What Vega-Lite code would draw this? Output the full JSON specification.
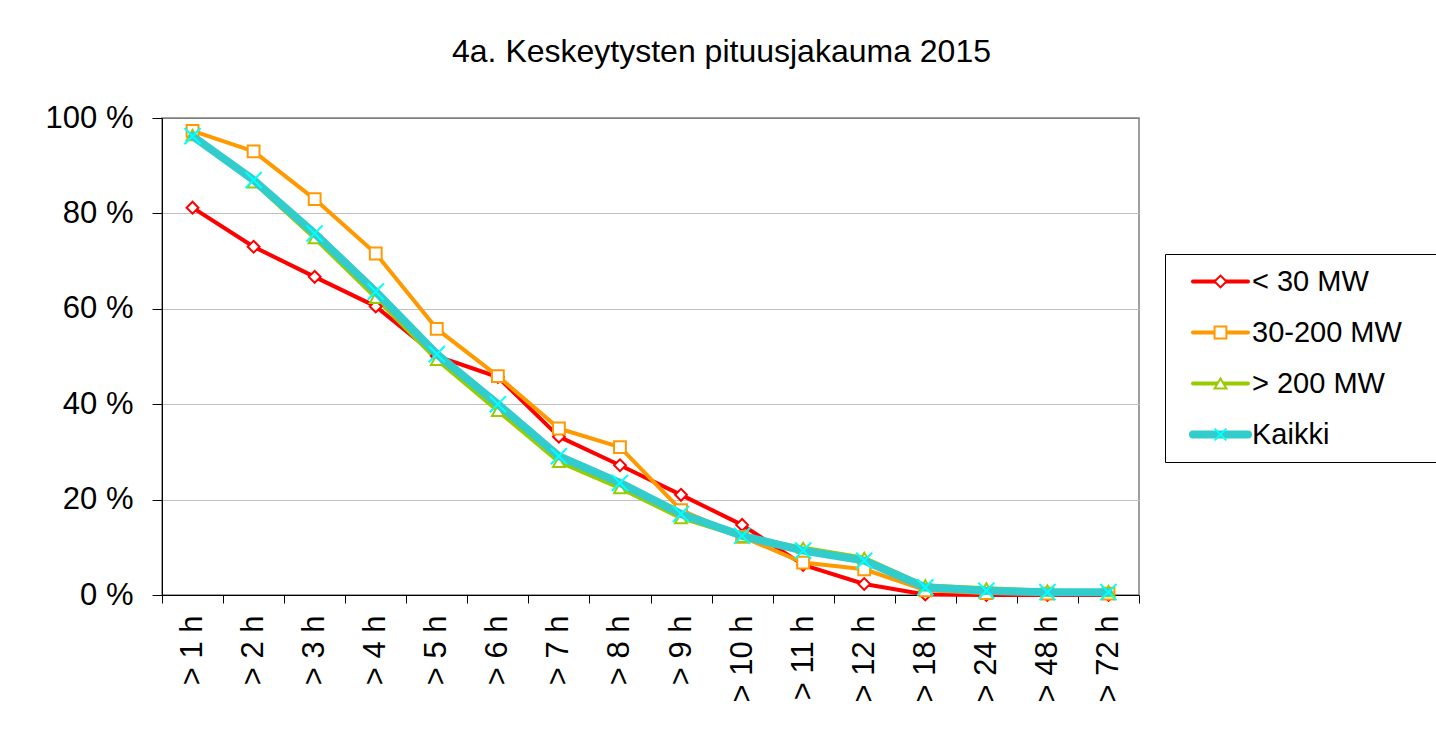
{
  "$schema": "https://vega.github.io/schema/vega-lite/v6.json",
  "width": 977,
  "height": 477,
  "autosize": {"type": "none"},
  "padding": {"left": 162, "top": 118, "right": 297, "bottom": 139},
  "background": "white",
  "title": {"text": "4a. Keskeytysten pituusjakauma 2015", "fontSize": 32, "font": "Liberation Sans", "fontWeight": "normal", "color": "black", "anchor": "middle", "dx": 71, "offset": 8, "baseline": "alphabetic"},
  "config": {"font": "Liberation Sans", "view": {"stroke": "#808080", "strokeWidth": 1.5}},
  "data": {"values": [
    {"h": "> 1 h", "s": "< 30 MW", "n": 1, "v": 81.2},
    {"h": "> 2 h", "s": "< 30 MW", "n": 1, "v": 73.0},
    {"h": "> 3 h", "s": "< 30 MW", "n": 1, "v": 66.7},
    {"h": "> 4 h", "s": "< 30 MW", "n": 1, "v": 60.5},
    {"h": "> 5 h", "s": "< 30 MW", "n": 1, "v": 50.1},
    {"h": "> 6 h", "s": "< 30 MW", "n": 1, "v": 45.7},
    {"h": "> 7 h", "s": "< 30 MW", "n": 1, "v": 33.2},
    {"h": "> 8 h", "s": "< 30 MW", "n": 1, "v": 27.2},
    {"h": "> 9 h", "s": "< 30 MW", "n": 1, "v": 21.0},
    {"h": "> 10 h", "s": "< 30 MW", "n": 1, "v": 14.7},
    {"h": "> 11 h", "s": "< 30 MW", "n": 1, "v": 6.3},
    {"h": "> 12 h", "s": "< 30 MW", "n": 1, "v": 2.3},
    {"h": "> 18 h", "s": "< 30 MW", "n": 1, "v": 0.1},
    {"h": "> 24 h", "s": "< 30 MW", "n": 1, "v": 0},
    {"h": "> 48 h", "s": "< 30 MW", "n": 1, "v": 0},
    {"h": "> 72 h", "s": "< 30 MW", "n": 1, "v": 0},
    {"h": "> 1 h", "s": "30-200 MW", "n": 2, "v": 97.3},
    {"h": "> 2 h", "s": "30-200 MW", "n": 2, "v": 93.0},
    {"h": "> 3 h", "s": "30-200 MW", "n": 2, "v": 83.0},
    {"h": "> 4 h", "s": "30-200 MW", "n": 2, "v": 71.6},
    {"h": "> 5 h", "s": "30-200 MW", "n": 2, "v": 55.8},
    {"h": "> 6 h", "s": "30-200 MW", "n": 2, "v": 45.9},
    {"h": "> 7 h", "s": "30-200 MW", "n": 2, "v": 34.9},
    {"h": "> 8 h", "s": "30-200 MW", "n": 2, "v": 31.0},
    {"h": "> 9 h", "s": "30-200 MW", "n": 2, "v": 17.8},
    {"h": "> 10 h", "s": "30-200 MW", "n": 2, "v": 12.2},
    {"h": "> 11 h", "s": "30-200 MW", "n": 2, "v": 6.8},
    {"h": "> 12 h", "s": "30-200 MW", "n": 2, "v": 5.4},
    {"h": "> 18 h", "s": "30-200 MW", "n": 2, "v": 1.0},
    {"h": "> 24 h", "s": "30-200 MW", "n": 2, "v": 0.4},
    {"h": "> 48 h", "s": "30-200 MW", "n": 2, "v": 0.3},
    {"h": "> 72 h", "s": "30-200 MW", "n": 2, "v": 0.3},
    {"h": "> 1 h", "s": "> 200 MW", "n": 3, "v": 96.4},
    {"h": "> 2 h", "s": "> 200 MW", "n": 3, "v": 86.5},
    {"h": "> 3 h", "s": "> 200 MW", "n": 3, "v": 74.8},
    {"h": "> 4 h", "s": "> 200 MW", "n": 3, "v": 62.3},
    {"h": "> 5 h", "s": "> 200 MW", "n": 3, "v": 49.3},
    {"h": "> 6 h", "s": "> 200 MW", "n": 3, "v": 38.6},
    {"h": "> 7 h", "s": "> 200 MW", "n": 3, "v": 27.9},
    {"h": "> 8 h", "s": "> 200 MW", "n": 3, "v": 22.4},
    {"h": "> 9 h", "s": "> 200 MW", "n": 3, "v": 16.1},
    {"h": "> 10 h", "s": "> 200 MW", "n": 3, "v": 12.2},
    {"h": "> 11 h", "s": "> 200 MW", "n": 3, "v": 9.9},
    {"h": "> 12 h", "s": "> 200 MW", "n": 3, "v": 7.8},
    {"h": "> 18 h", "s": "> 200 MW", "n": 3, "v": 2.0},
    {"h": "> 24 h", "s": "> 200 MW", "n": 3, "v": 1.4},
    {"h": "> 48 h", "s": "> 200 MW", "n": 3, "v": 0.9},
    {"h": "> 72 h", "s": "> 200 MW", "n": 3, "v": 0.8},
    {"h": "> 1 h", "s": "Kaikki", "n": 4, "v": 96.2},
    {"h": "> 2 h", "s": "Kaikki", "n": 4, "v": 87.0},
    {"h": "> 3 h", "s": "Kaikki", "n": 4, "v": 75.8},
    {"h": "> 4 h", "s": "Kaikki", "n": 4, "v": 63.6},
    {"h": "> 5 h", "s": "Kaikki", "n": 4, "v": 50.5},
    {"h": "> 6 h", "s": "Kaikki", "n": 4, "v": 40.0},
    {"h": "> 7 h", "s": "Kaikki", "n": 4, "v": 29.1},
    {"h": "> 8 h", "s": "Kaikki", "n": 4, "v": 23.5},
    {"h": "> 9 h", "s": "Kaikki", "n": 4, "v": 17.0},
    {"h": "> 10 h", "s": "Kaikki", "n": 4, "v": 12.4},
    {"h": "> 11 h", "s": "Kaikki", "n": 4, "v": 9.3},
    {"h": "> 12 h", "s": "Kaikki", "n": 4, "v": 7.2},
    {"h": "> 18 h", "s": "Kaikki", "n": 4, "v": 1.6},
    {"h": "> 24 h", "s": "Kaikki", "n": 4, "v": 0.9},
    {"h": "> 48 h", "s": "Kaikki", "n": 4, "v": 0.6},
    {"h": "> 72 h", "s": "Kaikki", "n": 4, "v": 0.6}
  ]},
  "encoding": {
    "x": {
      "field": "h", "type": "nominal", "bandPosition": 0.5,
      "scale": {"type": "band", "domain": ["> 1 h", "> 2 h", "> 3 h", "> 4 h", "> 5 h", "> 6 h", "> 7 h", "> 8 h", "> 9 h", "> 10 h", "> 11 h", "> 12 h", "> 18 h", "> 24 h", "> 48 h", "> 72 h"], "paddingInner": 0, "paddingOuter": 0},
      "axis": {"title": null, "labelAngle": -90, "labelFontSize": 31, "labelColor": "black", "labelPadding": 12, "tickSize": 8, "tickColor": "black", "domainColor": "black", "tickBand": "extent", "grid": false, "labelOverlap": false}
    },
    "y": {
      "field": "v", "type": "quantitative",
      "scale": {"domain": [0, 100], "nice": false},
      "axis": {"title": null, "values": [0, 20, 40, 60, 80, 100], "labelExpr": "datum.value + ' %'", "labelFontSize": 31, "labelColor": "black", "labelPadding": 19, "tickSize": 10, "tickColor": "black", "domainColor": "black", "grid": true, "gridColor": {"condition": {"test": "datum.value === 100", "value": "#808080"}, "value": "#C0C0C0"}}
    }
  },
  "layer": [
    {
      "transform": [{"filter": "datum.n < 4"}],
      "mark": {"type": "line", "strokeWidth": 4, "strokeJoin": "round", "strokeCap": "round"},
      "encoding": {
        "color": {
          "field": "s", "type": "nominal",
          "scale": {"domain": ["< 30 MW", "30-200 MW", "> 200 MW", "Kaikki"], "range": ["#FF0000", "#FF9900", "#99CC00", "#33CCCC"]},
          "legend": {"orient": "none", "legendX": 1003, "legendY": 136, "title": " ", "titleOrient": "right", "titlePadding": 41, "symbolType": "stroke", "symbolSize": 3025, "symbolStrokeWidth": 4, "symbolOffset": 31, "labelOffset": 17, "labelFontSize": 29, "labelColor": "black", "labelFont": "Liberation Sans", "padding": 10, "rowPadding": 16, "clipHeight": 35, "strokeColor": "black", "fillColor": "white",
            "encode": {"symbols": {"update": {"strokeWidth": {"signal": "datum.value === 'Kaikki' ? 8 : 4"}, "strokeCap": {"value": "round"}}}}}
        }
      }
    },
    {
      "transform": [{"filter": "datum.n < 4"}],
      "mark": {"type": "point", "filled": true, "fill": "white", "strokeWidth": 2, "size": 140, "opacity": 1},
      "encoding": {
        "shape": {"field": "n", "type": "nominal", "scale": {"range": ["diamond", "square", "triangle-up", "M-1,-1L1,1M-1,1L1,-1"]},
          "legend": {"orient": "none", "legendX": 1003, "legendY": 136, "title": null, "padding": 10, "rowPadding": 16, "clipHeight": 35, "symbolOffset": 31, "labelExpr": "''", "labelFontSize": 29, "symbolFillColor": "white", "symbolStrokeWidth": 2, "symbolSize": 140,
            "encode": {"symbols": {"update": {"size": {"signal": "datum.value == 4 ? 260 : 140"}}}}}},
        "stroke": {"field": "n", "type": "nominal", "scale": {"range": ["#FF0000", "#FF9900", "#99CC00", "#00FFFF"]}}
      }
    },
    {
      "transform": [{"filter": "datum.n == 4"}],
      "mark": {"type": "line", "strokeWidth": 8, "strokeJoin": "round", "strokeCap": "round"},
      "encoding": {
        "color": {"field": "s", "type": "nominal"}
      }
    },
    {
      "transform": [{"filter": "datum.n == 4"}],
      "mark": {"type": "point", "filled": true, "fill": "white", "strokeWidth": 2, "size": 260, "opacity": 1},
      "encoding": {
        "shape": {"field": "n", "type": "nominal"},
        "stroke": {"field": "n", "type": "nominal"}
      }
    }
  ]
}
